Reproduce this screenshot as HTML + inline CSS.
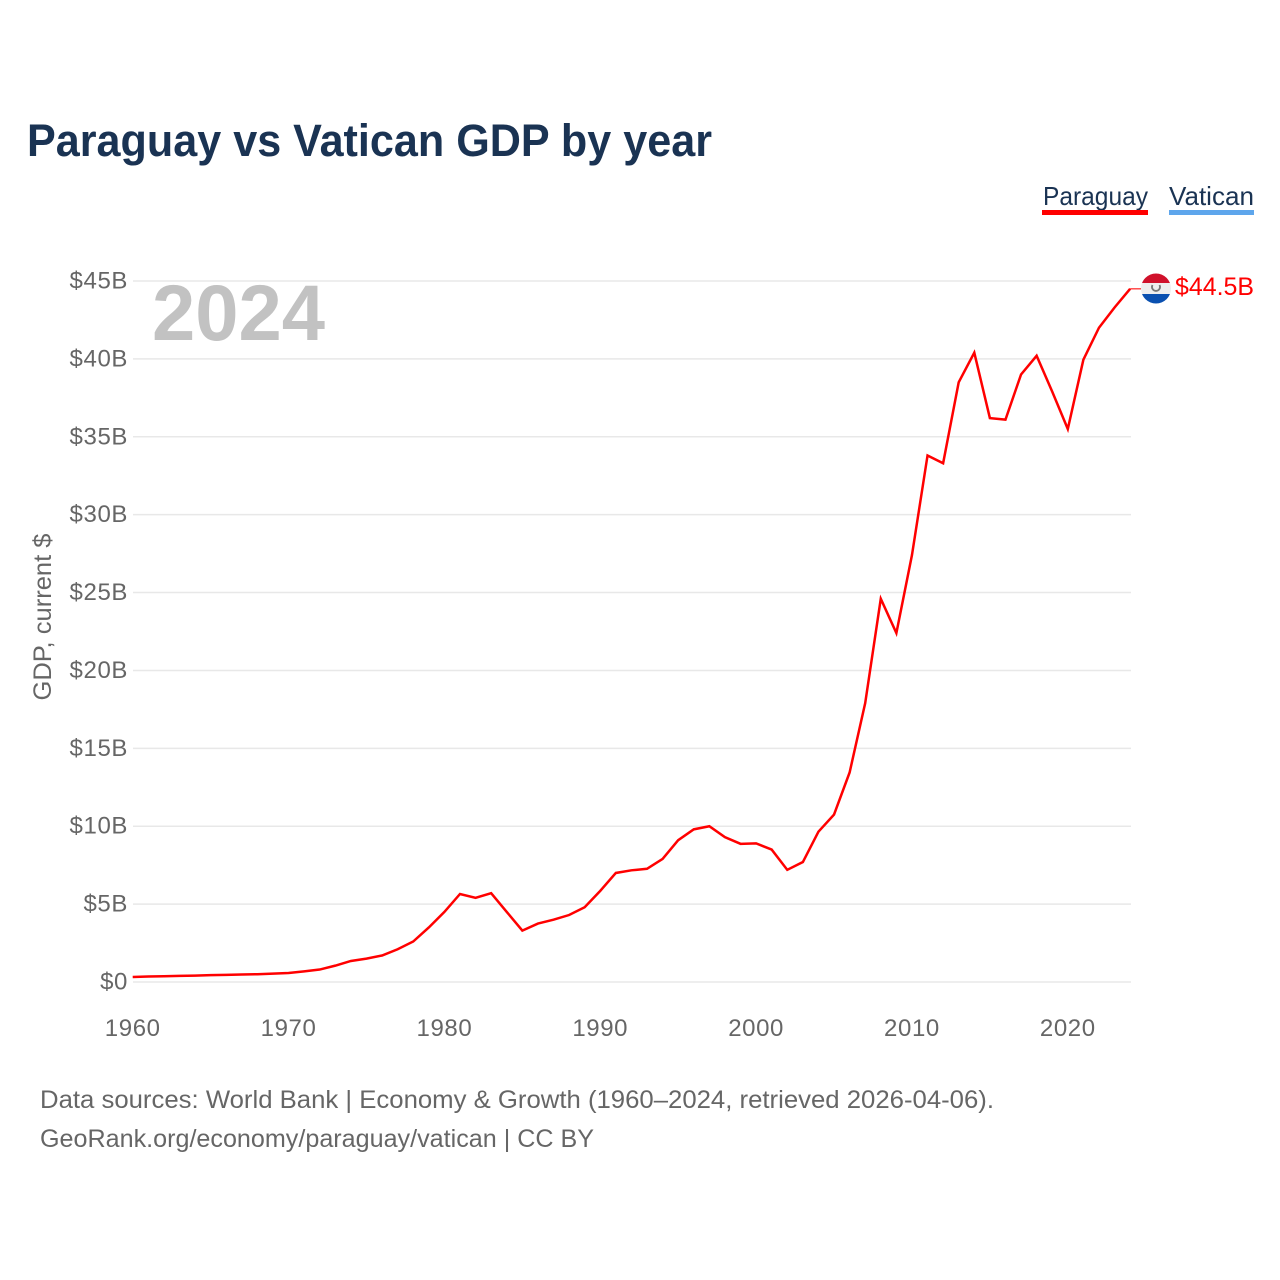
<!DOCTYPE html>
<html lang="en">
<head>
<meta charset="utf-8">
<title>Paraguay vs Vatican GDP by year</title>
<style>
html,body{margin:0;padding:0;background:#fff;}
svg{display:block;font-family:"Liberation Sans",Arial,sans-serif;}
.tick{font-size:24px;fill:#666;letter-spacing:.6px;}
.foot{font-size:25px;fill:#666;}
</style>
</head>
<body>
<svg id="chart" width="1280" height="1280" viewBox="0 0 1280 1280" xmlns="http://www.w3.org/2000/svg">
  <rect width="1280" height="1280" fill="#fff"/>
  <text x="27" y="156" font-size="45" font-weight="700" fill="#1a3353" textLength="685" lengthAdjust="spacingAndGlyphs">Paraguay vs Vatican GDP by year</text>

  <g>
    <g>
      <text x="1043" y="205" font-size="26" fill="#1a3353" textLength="105" lengthAdjust="spacingAndGlyphs">Paraguay</text>
      <rect x="1042" y="210" width="106" height="5" fill="#ff0000"/>
    </g>
    <g>
      <text x="1169" y="205" font-size="26" fill="#1a3353" textLength="85" lengthAdjust="spacingAndGlyphs">Vatican</text>
      <rect x="1169" y="210" width="85" height="5" fill="#5ea6ec"/>
    </g>
  </g>

  <g id="grid"></g>
  <g id="yticks"></g>
  <g id="xticks"></g>

  <text x="152" y="340" font-size="79" font-weight="700" fill="#c2c2c2" textLength="173" lengthAdjust="spacingAndGlyphs">2024</text>
  <text transform="translate(51,617) rotate(-90)" text-anchor="middle" font-size="25" fill="#666" textLength="167" lengthAdjust="spacingAndGlyphs">GDP, current $</text>

  <g id="series"></g>

  <g>
    <clipPath id="flagClip"><circle cx="1156" cy="288.5" r="15"/></clipPath>
    <g clip-path="url(#flagClip)">
      <rect x="1141" y="273" width="30" height="10" fill="#d0112b"/>
      <rect x="1141" y="283" width="30" height="11" fill="#eeeeee"/>
      <rect x="1141" y="294" width="30" height="10" fill="#0a50b0"/>
    </g>
    <path d="M1152.5 285 a4 4 0 1 0 7 0" fill="none" stroke="#777" stroke-width="1.8"/>
  </g>

  <text id="endLabel" x="1175" y="295" font-size="25" fill="#ff0000" textLength="79" lengthAdjust="spacingAndGlyphs">$44.5B</text>

  <text class="foot" x="40" y="1108" textLength="954" lengthAdjust="spacingAndGlyphs">Data sources: World Bank | Economy &amp; Growth (1960–2024, retrieved 2026-04-06).</text>
  <text class="foot" x="40" y="1147" textLength="554" lengthAdjust="spacingAndGlyphs">GeoRank.org/economy/paraguay/vatican | CC BY</text>
</svg>
<script>
const startYear = 1960;
const paraguayGdp = [0.32,0.35,0.37,0.39,0.41,0.44,0.46,0.48,0.5,0.54,0.58,0.68,0.8,1.05,1.35,1.5,1.7,2.1,2.6,3.5,4.5,5.65,5.4,5.7,4.5,3.3,3.75,4.0,4.3,4.8,5.85,7.0,7.17,7.27,7.9,9.1,9.8,10.0,9.3,8.87,8.9,8.5,7.2,7.7,9.65,10.75,13.45,17.9,24.6,22.4,27.4,33.8,33.3,38.5,40.4,36.2,36.1,39.0,40.2,37.9,35.5,39.95,42.0,43.3,44.5];
const yTickValues = [0,5,10,15,20,25,30,35,40,45];
const yTickLabels = ["$0","$5B","$10B","$15B","$20B","$25B","$30B","$35B","$40B","$45B"];
const xTickYears = [1960,1970,1980,1990,2000,2010,2020];

const NS = "http://www.w3.org/2000/svg";
const xScale = function (year) { return 132.7 + (year - 1960) * 15.585; };
const yScale = function (v) { return 982 - v * (982 - 281) / 45; };

const make = function (tag, parentId) {
  const el = document.createElementNS(NS, tag);
  document.getElementById(parentId).appendChild(el);
  return el;
};

yTickValues.forEach(function (v, i) {
  const line = make("line", "grid");
  
  
  line.setAttribute("x1", 133);
  line.setAttribute("x2", 1131);
  line.setAttribute("y1", yScale(v));
  line.setAttribute("y2", yScale(v));
  line.setAttribute("stroke", "#e8e8e8");
  line.setAttribute("stroke-width", "1.5");

  const label = make("text", "yticks");
  
  
  label.setAttribute("class", "tick");
  label.setAttribute("x", 128);
  label.setAttribute("y", yScale(v) + 7.5);
  label.setAttribute("text-anchor", "end");
  label.textContent = yTickLabels[i];
});

xTickYears.forEach(function (year) {
  const label = make("text", "xticks");
  
  
  label.setAttribute("class", "tick");
  label.setAttribute("x", xScale(year));
  label.setAttribute("y", 1036);
  label.setAttribute("text-anchor", "middle");
  label.textContent = String(year);
});

const points = paraguayGdp.map(function (v, i) {
  return xScale(startYear + i).toFixed(2) + "," + yScale(v).toFixed(2);
}).join(" ");

const path = make("polyline", "series");


path.setAttribute("points", points);
path.setAttribute("fill", "none");
path.setAttribute("stroke", "#ff0000");
path.setAttribute("stroke-width", "2.5");
path.setAttribute("stroke-linejoin", "miter");

const lastValue = paraguayGdp[paraguayGdp.length - 1];
const connector = make("line", "series");


connector.setAttribute("x1", xScale(startYear + paraguayGdp.length - 1));
connector.setAttribute("x2", 1141);
connector.setAttribute("y1", yScale(lastValue));
connector.setAttribute("y2", yScale(lastValue));
connector.setAttribute("stroke", "#ff0000");
connector.setAttribute("stroke-opacity", "0.7");
connector.setAttribute("stroke-width", "1.5");

document.getElementById("endLabel").textContent = "$" + lastValue.toFixed(1) + "B";
</script>
</body>
</html>
